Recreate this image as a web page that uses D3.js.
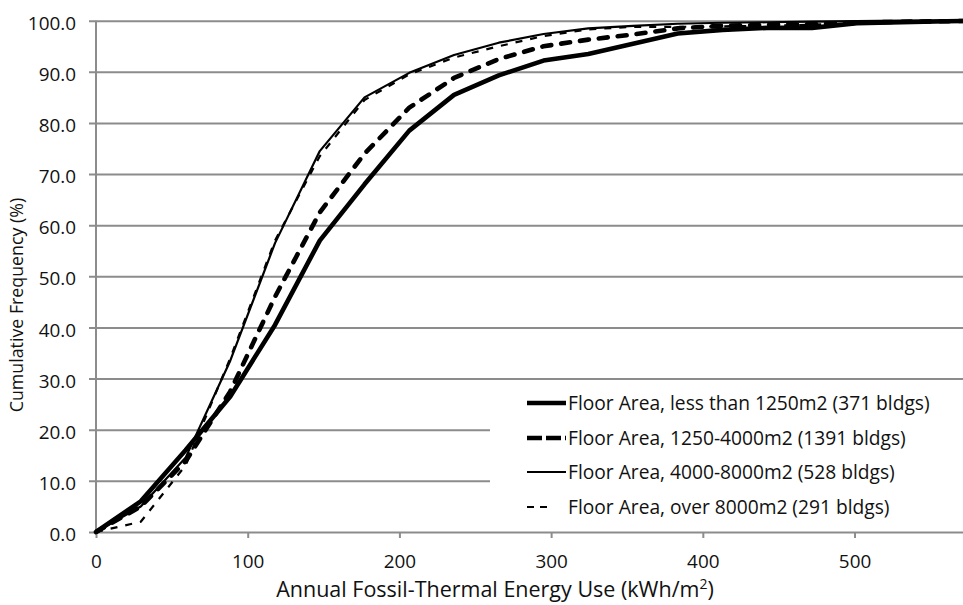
<!DOCTYPE html>
<html><head><meta charset="utf-8">
<script src="https://cdn.jsdelivr.net/npm/d3@7"></script>
<style>body{margin:0;background:#fff}svg{display:block}text{font-family:"Open Sans",sans-serif;fill:#111}</style>
</head><body>
<svg id="c" width="963" height="605"></svg>
<script>
const energyX = [0, 29.5, 59, 88.5, 118, 147.5, 177, 206.5, 236, 265.5, 295, 324.5, 354, 383.5, 413, 442.5, 472, 501.5, 531, 560.5, 590];
const seriesSmall  = [0, 6.0, 16.0, 26.5, 40.5, 57.0, 68.0, 78.5, 85.5, 89.3, 92.2, 93.5, 95.5, 97.5, 98.2, 98.6, 98.6, 99.5, 99.7, 99.9, 100];
const seriesMedium = [0, 5.0, 13.8, 27.5, 46.0, 62.5, 74.0, 83.0, 88.8, 92.5, 95.0, 96.3, 97.3, 98.5, 99.0, 99.2, 99.3, 99.6, 99.8, 99.9, 100];
const seriesLarge  = [0, 5.0, 14.5, 33.5, 56.5, 74.5, 85.0, 89.8, 93.3, 95.7, 97.4, 98.5, 99.0, 99.4, 99.6, 99.7, 99.8, 99.9, 100, 100, 100];
const seriesXLarge = [0, 2.0, 13.0, 34.0, 57.0, 73.5, 84.5, 89.5, 92.8, 95.0, 97.0, 98.3, 98.8, 98.8, 98.9, 99.0, 99.2, 99.6, 99.8, 100, 100];
const seriesNames = ["Floor Area, less than 1250m2 (371 bldgs)", "Floor Area, 1250-4000m2 (1391 bldgs)", "Floor Area, 4000-8000m2 (528 bldgs)", "Floor Area, over 8000m2 (291 bldgs)"];
const yTicks = [0, 10, 20, 30, 40, 50, 60, 70, 80, 90, 100];
const xTicks = [0, 100, 200, 300, 400, 500];

const styles = [
  {w: 4.6, dash: null, cap: "butt", legDash: null},
  {w: 4.6, dash: "9,10", cap: "round", legDash: "15,4"},
  {w: 2.2, dash: null, cap: "butt", legDash: null},
  {w: 2.2, dash: "7,8", cap: "butt", legDash: "7,6"}
];
const allSeries = [seriesSmall, seriesMedium, seriesLarge, seriesXLarge];

const svg = d3.select("#c");
const x = d3.scaleLinear().domain([0, 571.5]).range([96, 963]);
const y = d3.scaleLinear().domain([0, 100]).range([532, 20.7]);

const TICK_FS = 18.9, LEG_FS = 19.2, XT_FS = 21.5, YT_FS = 17.8;

// grid lines + y ticks
const gy = svg.append("g").attr("transform", "translate(96,0)")
  .call(d3.axisLeft(y).tickValues(yTicks).tickSize(-867).tickPadding(13).tickFormat(d3.format(".1f")));
gy.select(".domain").remove();
gy.selectAll(".tick line").attr("stroke", "#8c8c8c").attr("stroke-width", 2).attr("x1", -7);
gy.selectAll(".tick text").attr("font-size", TICK_FS).attr("x", -20).attr("dy", "0.32em").attr("y", 2.5);

// y axis line
svg.append("line").attr("x1", 96).attr("x2", 96).attr("y1", y(100)).attr("y2", y(0))
  .attr("stroke", "#8c8c8c").attr("stroke-width", 2);

// x axis ticks
const gx = svg.append("g").attr("transform", "translate(0,532)")
  .call(d3.axisBottom(x).tickValues(xTicks).tickSize(6).tickPadding(16).tickFormat(d3.format("d")));
gx.select(".domain").remove();
gx.selectAll(".tick line").attr("stroke", "#8c8c8c").attr("stroke-width", 2);
gx.selectAll(".tick text").attr("font-size", TICK_FS).attr("dy", null).attr("y", 36);

// legend background
svg.append("rect").attr("x", 490).attr("y", 388).attr("width", 480).attr("height", 138).attr("fill", "#fff");

svg.append("clipPath").attr("id", "clip").append("rect").attr("x", 0).attr("y", 0).attr("width", 963).attr("height", 605);

const line = d3.line().x((d, i) => x(energyX[i])).y(d => y(d));
const lg = svg.append("g").attr("clip-path", "url(#clip)");
[3, 2, 1, 0].forEach(k => {
  lg.append("path").datum(allSeries[k]).attr("d", line)
    .attr("fill", "none").attr("stroke", "#000").attr("stroke-width", styles[k].w)
    .attr("stroke-linejoin", "round").attr("stroke-linecap", styles[k].cap)
    .attr("stroke-dasharray", styles[k].dash);
});

// legend
const legY = [403, 438, 472, 507];
seriesNames.forEach((n, k) => {
  svg.append("line").attr("x1", 527).attr("x2", k === 3 ? 548 : 566).attr("y1", legY[k]).attr("y2", legY[k])
    .attr("stroke", "#000").attr("stroke-width", styles[k].w)
    .attr("stroke-dasharray", styles[k].legDash);
  svg.append("text").attr("x", 568).attr("y", legY[k] + 7).attr("font-size", LEG_FS).text(n);
});

// axis titles
const xt = svg.append("text").attr("x", 495).attr("y", 597).attr("text-anchor", "middle").attr("font-size", XT_FS);
xt.append("tspan").text("Annual Fossil-Thermal Energy Use (kWh/m");
xt.append("tspan").attr("font-size", XT_FS * 0.65).attr("dy", -8).text("2");
xt.append("tspan").attr("dy", 8).text(")");

svg.append("text").attr("transform", "translate(23,305) rotate(-90)").attr("text-anchor", "middle")
  .attr("font-size", YT_FS).text("Cumulative Frequency (%)");
</script>
</body></html>
